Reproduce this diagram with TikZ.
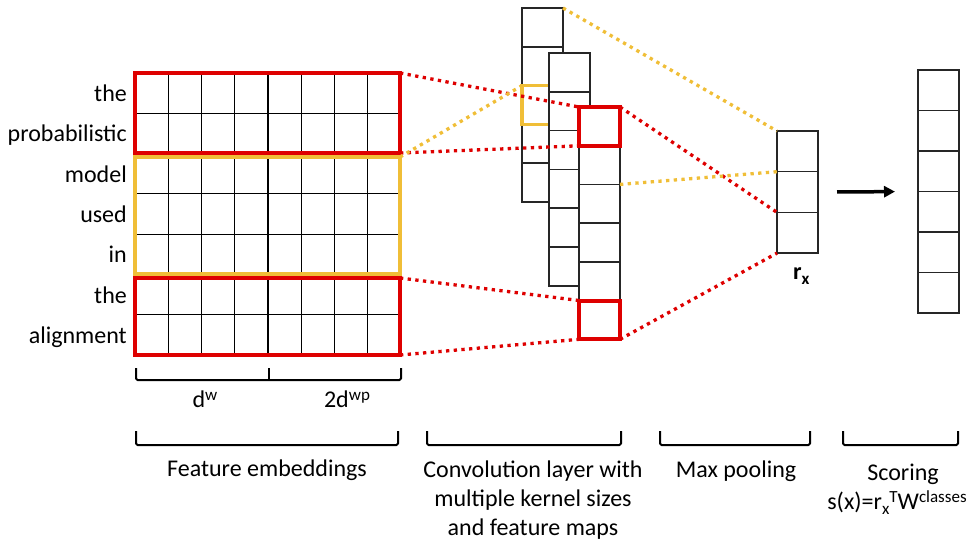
\documentclass[tikz,border=0pt]{standalone}
\usepackage{fontspec}
\setmainfont{Carlito}
\usetikzlibrary{arrows.meta,calc}
\definecolor{winred}{RGB}{222,0,0}
\definecolor{wingold}{RGB}{240,190,55}
% small raised / lowered indices
\newcommand{\upidx}[1]{\raisebox{7pt}{\fontsize{17}{17}\selectfont #1}}
\newcommand{\lowidx}[1]{\raisebox{-5pt}{\fontsize{17}{17}\selectfont #1}}

\begin{document}
\begin{tikzpicture}[
  x = 1pt, y = -1pt,
  font = \fontsize{24}{29}\selectfont,
  cell/.style = {rectangle, draw=black!85, line width=1.5pt, fill=white,
                 minimum width=41pt, minimum height=38.8pt, inner sep=0pt,
                 outer sep=0pt, anchor=north west},
  gridline/.style = {draw=black, line width=1.2pt},
  embbox/.style = {rectangle, gridline, minimum width=266pt, minimum height=282pt,
                   inner sep=0pt, outer sep=0pt, anchor=north west},
  redwin/.style = {rectangle, draw=winred, line width=3.5pt, inner sep=0pt,
                   outer sep=0pt, anchor=north west},
  goldwin/.style = {redwin, draw=wingold},
  redhl/.style = {draw=winred, line width=4pt},
  goldhl/.style = {draw=wingold, line width=3.5pt},
  reddots/.style = {draw=winred, line width=3.3pt, dash pattern=on 3.3pt off 4.4pt},
  golddots/.style = {reddots, draw=wingold},
  flow/.style = {-{Triangle[length=11pt,width=11pt]}, line width=3.5pt},
  bracket/.style = {draw=black, line width=2pt, line join=round, rounded corners=1.5pt},
  word/.style = {anchor=base east, inner sep=0pt},
  caption/.style = {anchor=base, inner sep=0pt},
]
\useasboundingbox (0,0) rectangle (972,542);

% embedding matrix with its grid
\node[embbox] (emb) at (135,73) {};
\foreach \k in {1,...,7}
  \draw[gridline] ($(emb.north west)!\k/8!(emb.north east)$) -- ($(emb.south west)!\k/8!(emb.south east)$);
\foreach \k in {1,...,6}
  \draw[gridline] ($(emb.north west)!\k/7!(emb.south west)$) -- ($(emb.north east)!\k/7!(emb.south east)$);

% kernel windows
\node[redwin, minimum width=265pt, minimum height=80pt] (winTop) at (135,73) {};
\node[goldwin, minimum width=265pt, minimum height=117pt] (winMid) at (135,157) {};
\node[redwin, minimum width=265pt, minimum height=77pt] (winBot) at (135,278) {};

% sentence
\foreach \w [count=\i] in {the,probabilistic,model,used,in,the,alignment}
  \node[word] (word\i) at (127,{73+40.3*\i-20.15+8.5}) {\w};

% feature maps, back to front
\foreach \i in {1,...,5}
  \node[cell] (mapA-\i) at (522,{8+38.8*(\i-1)}) {};
\draw[goldhl] (mapA-3.north west) rectangle (mapA-3.south east);
\foreach \i in {1,...,6}
  \node[cell] (mapB-\i) at (549,{53+38.8*(\i-1)}) {};
\foreach \i in {1,...,6}
  \node[cell] (mapC-\i) at (579,{107+38.7*(\i-1)}) {};
\draw[redhl] (mapC-1.north west) rectangle (mapC-1.south east);
\draw[redhl] (mapC-6.north west) rectangle (mapC-6.south east);

% pooled vector
\foreach \i in {1,2,3}
  \node[cell, minimum height=40.7pt] (pool-\i) at (777,{131+40.7*(\i-1)}) {};
\node[anchor=base west, inner sep=0pt] (rx) at (793,279) {\textbf{r\lowidx{x}}};

% class scores
\foreach \i in {1,...,6}
  \node[cell, minimum height=40.5pt] (score-\i) at (918,{70+40.5*(\i-1)}) {};

\draw[flow, shorten <=19pt, shorten >=23pt] (pool-2.east) -- (score-3.south west);

% dotted connectors
\draw[reddots] (winTop.north east) -- (mapC-1.north west);
\draw[reddots] (winTop.south east) -- (mapC-1.south west);
\draw[reddots] (winBot.north east) -- (mapC-6.north west);
\draw[reddots] (winBot.south east) -- (mapC-6.south west);
\draw[golddots] (winMid.north east) -- (mapA-3.north west);
\draw[reddots] (mapC-1.north east) -- (pool-3.north west);
\draw[reddots] (mapC-6.south east) -- (pool-3.south west);
\draw[golddots] (mapA-1.north east) -- (pool-1.north west);
\draw[golddots] (mapC-3.north east) -- (pool-2.north west);

% brackets
\draw[bracket] (136,368) |- (401,380) -- (401,368);
\draw[bracket] (269,380) -- (269,368);
\foreach \a/\b in {136/398, 427/621, 660/810, 843/958}
  \draw[bracket] (\a,431) |- (\b,445) -- (\b,431);

% labels
\node[caption] (dimWord) at (205,407) {d\upidx{w}};
\node[caption] (dimPos) at (347,407) {2d\upidx{wp}};
\node[caption] (capEmb) at (267,476) {Feature embeddings};
\node[caption, align=center] (capConv) at (533,535) {Convolution layer with\\multiple kernel sizes\\and feature maps};
\node[caption] (capPool) at (736,477) {Max pooling};
\node[caption] (capScore) at (903,480) {Scoring};
\node[caption] (capFormula) at (897,509) {s(x)=r\lowidx{x}\upidx{T}W\upidx{classes}};
\end{tikzpicture}
\end{document}
